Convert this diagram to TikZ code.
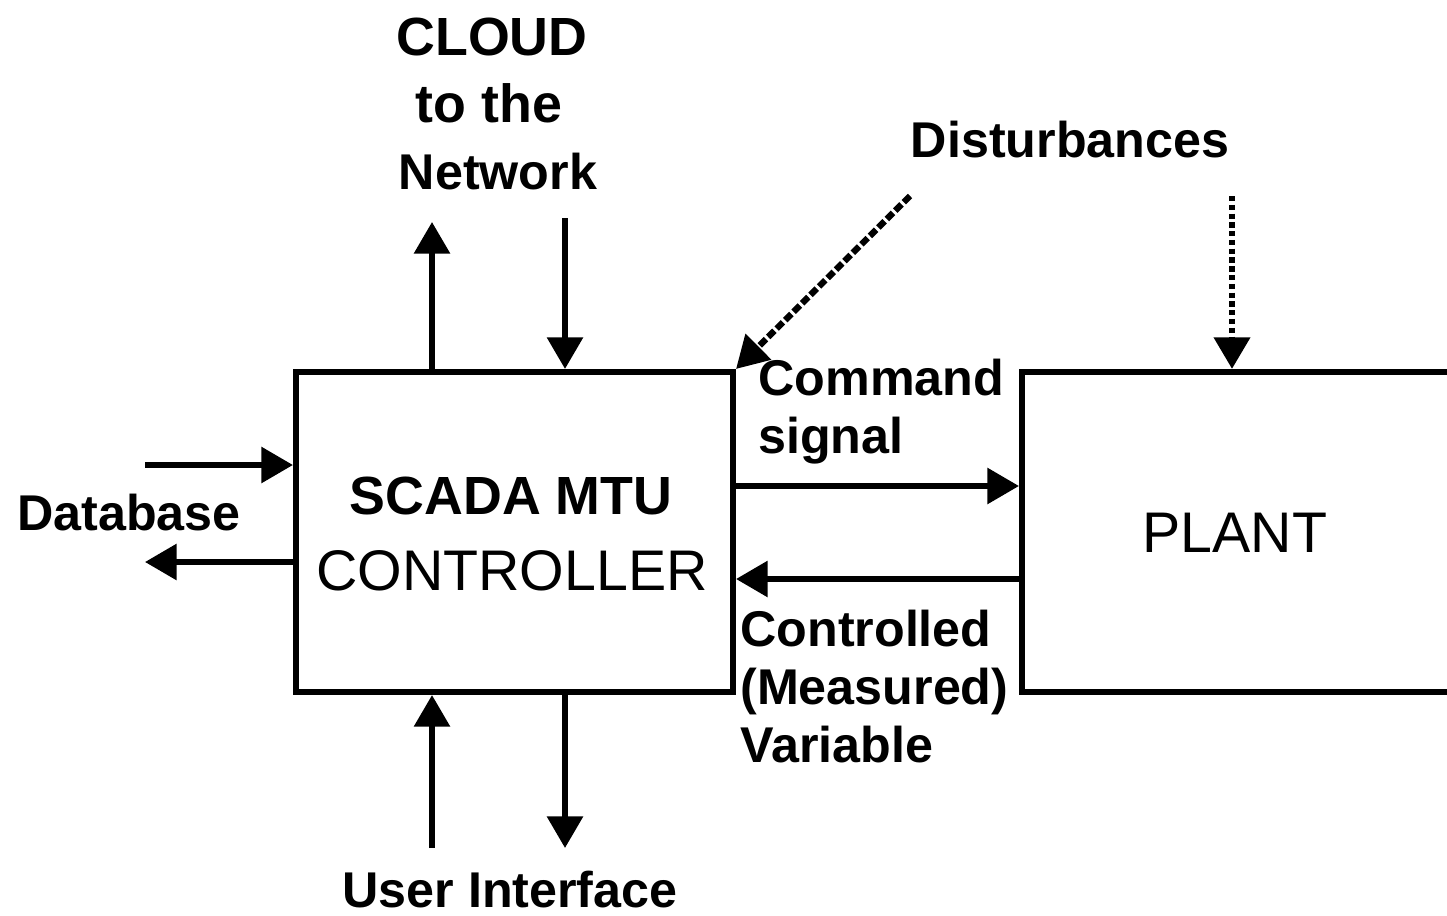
\documentclass[tikz,border=0pt]{standalone}
\usepackage{fontspec}
\setmainfont{Liberation Sans}
\usetikzlibrary{arrows.meta}
\begin{document}
\begin{tikzpicture}[x=0.02cm,y=-0.02cm,
  box/.style={draw, line width=3.5pt, inner sep=0pt},
  arr/.style={line width=3.2pt, -{Triangle[length=18pt,width=20pt]}},
  lbl/.style={font=\fontsize{28.6}{33}\selectfont\bfseries, inner sep=0pt, anchor=base},
  lbll/.style={lbl, anchor=base west},
  bigb/.style={lbl, font=\fontsize{30.6}{35}\selectfont\bfseries},
  bigr/.style={lbl, font=\fontsize{32.6}{35}\selectfont},
  dashedarr/.style={arr, line width=3.6pt, dash pattern=on 5pt off 1.8pt},
  dottedarr/.style={arr, line width=3.8pt, dash pattern=on 3pt off 2pt},
]
\useasboundingbox (0,0) rectangle (1447,916);

% boxes
\node[box, minimum width=8.74cm, minimum height=6.4cm] (ctrl) at (514.5,532) {};
\node[box, minimum width=8.6cm, minimum height=6.4cm] (plant) at (1237,532) {};

% box texts
\node[bigb] (scada) at (511,514) {SCADA MTU};
\node[bigr] (ctrltxt) at (512,590) {CONTROLLER};
\node[bigr] (planttxt) at (1235,552) {PLANT};

% labels
\node[bigb] (cloud1) at (492,55) {CLOUD};
\node[bigb] (cloud2) at (489,122) {to the};
\node[lbl] (cloud3) at (498,189) {Network};
\node[lbl] (dist) at (1070,157) {Disturbances};
\node[lbll] (cmd1) at (758,395) {Command};
\node[lbll] (cmd2) at (758,453) {signal};
\node[lbll] (db) at (17,530) {Database};
\node[lbll] (cv1) at (740,646) {Controlled};
\node[lbll] (cv2) at (740,704) {(Measured)};
\node[lbll] (cv3) at (740,762) {Variable};
\node[lbl] (ui) at (510,907) {User Interface};

% coordinates for free ends
\coordinate (netout) at (432,222);
\coordinate (netin) at (565,218);
\coordinate (uiin) at (432,848);
\coordinate (uiout) at (565,848);
\coordinate (dbin) at (145,465);
\coordinate (dbout) at (145,562);
\coordinate (cmdy) at (0,486);
\coordinate (cvy) at (0,579);
\coordinate (dist1) at (910,196);
\coordinate (dist2) at (1232,196);

% connectors
\draw[arr] (ctrl.north -| netout) -- (netout);
\draw[arr] (netin) -- (ctrl.north -| netin);
\draw[arr] (uiin) -- (ctrl.south -| uiin);
\draw[arr] (ctrl.south -| uiout) -- (uiout);
\draw[arr] (dbin) -- (ctrl.west |- dbin);
\draw[arr] (ctrl.west |- dbout) -- (dbout);
\draw[arr] (ctrl.east |- cmdy) -- (plant.west |- cmdy);
\draw[arr] (plant.west |- cvy) -- (ctrl.east |- cvy);
\draw[dashedarr] (dist1) -- (ctrl.north east);
\draw[dottedarr] (dist2) -- (plant.north -| dist2);
\end{tikzpicture}
\end{document}
